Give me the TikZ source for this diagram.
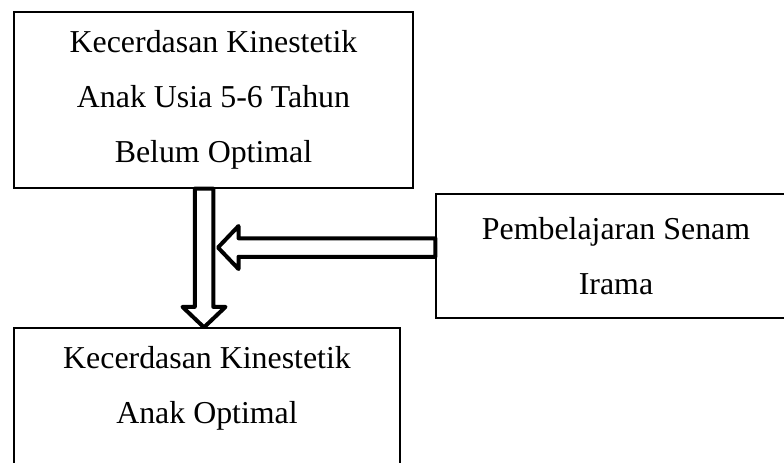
\documentclass[tikz,border=0pt]{standalone}
\usepackage{fontspec}
\setmainfont{Liberation Serif}
\usepackage{tikz}
\usetikzlibrary{calc}
\tikzstyle{kotak} = [draw, line width=0.5pt, align=center, inner sep=0pt, font=\fontsize{12.75pt}{22pt}\selectfont]
\tikzstyle{panah} = [draw, fill=white, line width=1.6pt, line join=round]

% hollow block arrow from #1 to #2
\newcommand{\panahblok}[2]{%
  \coordinate (pangkal) at ($(#2)!8.2pt!(#1)$);
  \draw[panah] ($(#1)!3.7pt!90:(#2)$) -- ($(pangkal)!3.7pt!90:(#2)$)
    -- ($(pangkal)!8.6pt!90:(#2)$) -- (#2)
    -- ($(pangkal)!8.6pt!-90:(#2)$) -- ($(pangkal)!3.7pt!-90:(#2)$)
    -- ($(#1)!3.7pt!-90:(#2)$) -- cycle;
}

\begin{document}
\begin{tikzpicture}[x=0.4pt, y=-0.4pt]
                \useasboundingbox (0,0) rectangle (784,462);
                \clip (0,0) rectangle (784,462);

                % Boxes
                \node[kotak, minimum width=159.6pt, minimum height=70.4pt] (kondisi) at (213.5,100)
                  {Kecerdasan Kinestetik\\Anak Usia 5-6 Tahun\\Belum Optimal};
                \node[kotak, minimum width=144pt, minimum height=49.6pt] (senam) at (616,256)
                  {Pembelajaran Senam\\Irama};
                \node[kotak, minimum width=154.4pt, minimum height=70.4pt] (hasil) at (207,416)
                  {Kecerdasan Kinestetik\\Anak Optimal\\\vphantom{Op}};

                % Axis of the arrows
                \coordinate (poros) at (204,0);
                \coordinate (ujung) at (218,247.5);

                % Arrows
                \panahblok{kondisi.south -| poros}{hasil.north -| poros}
                \panahblok{senam.west |- ujung}{ujung}
            \end{tikzpicture}
\end{document}
